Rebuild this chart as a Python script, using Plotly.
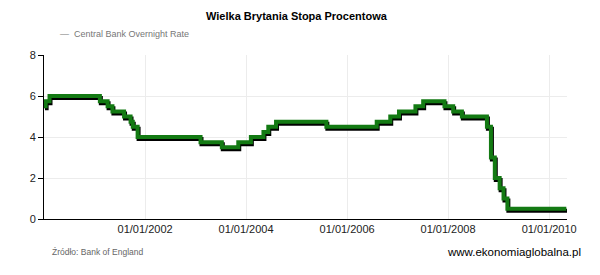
import plotly.graph_objects as go

# Bank of England official rate: change dates and new rate (%)
change_dates = [
    "2000-01-01", "2000-01-13", "2000-02-10", "2001-02-08", "2001-04-05",
    "2001-05-10", "2001-08-02", "2001-09-18", "2001-10-04", "2001-11-08",
    "2003-02-06", "2003-07-10", "2003-11-06", "2004-02-05", "2004-05-06",
    "2004-06-10", "2004-08-05", "2005-08-04", "2006-08-03", "2006-11-09",
    "2007-01-11", "2007-05-10", "2007-07-05", "2007-12-06", "2008-02-07",
    "2008-04-10", "2008-10-08", "2008-11-06", "2008-12-04", "2009-01-08",
    "2009-02-05", "2009-03-05", "2010-05-05",
]
rates = [
    5.5, 5.75, 6.0, 5.75, 5.5,
    5.25, 5.0, 4.75, 4.5, 4.0,
    3.75, 3.5, 3.75, 4.0, 4.25,
    4.5, 4.75, 4.5, 4.75, 5.0,
    5.25, 5.5, 5.75, 5.5, 5.25,
    5.0, 4.5, 3.0, 2.0, 1.5,
    1.0, 0.5, 0.5,
]

x_ticks = ["2002-01-01", "2004-01-01", "2006-01-01", "2008-01-01", "2010-01-01"]
x_tick_labels = ["01/01/2002", "01/01/2004", "01/01/2006", "01/01/2008", "01/01/2010"]
y_ticks = [0, 2, 4, 6, 8]

title = "Wielka Brytania Stopa Procentowa"
series_name = "Central Bank Overnight Rate"
source = "Źródło: Bank of England"
site = "www.ekonomiaglobalna.pl"

FONT = "Liberation Sans, Arial, sans-serif"
GREEN = "#137a13"

# page body has an 8px margin; work in page coordinates and subtract it
OFF = 8
W, H = 600 - OFF, 275 - OFF
PL, PR, PT, PB = 44, 567, 55, 219  # plot area in page pixels
PH = PB - PT

x_range = ["2000-01-01", "2010-05-10"]
y_range = [0, 8]


def py(page_y):
    return (PB - page_y) / PH


def px(page_x):
    return (page_x - PL) / (PR - PL)


fig = go.Figure()

# invisible host trace so the base (tick/grid) axes are drawn
fig.add_trace(go.Scatter(
    x=change_dates, y=rates, mode="lines", line=dict(color="rgba(0,0,0,0)", width=0, shape="hv"),
    hoverinfo="skip", showlegend=False,
))
# shadow: same data on an overlaid axis pair, offset by a couple of pixels
fig.add_trace(go.Scatter(
    x=change_dates, y=rates, mode="lines", line=dict(color="#000000", width=4, shape="hv"),
    xaxis="x2", yaxis="y2", hoverinfo="skip", showlegend=False,
))
fig.add_trace(go.Scatter(
    x=change_dates, y=rates, mode="lines", line=dict(color=GREEN, width=4, shape="hv"),
    xaxis="x3", yaxis="y3", name=series_name, showlegend=False,
))

fig.update_layout(
    width=W, height=H,
    margin=dict(l=PL - OFF, r=W - (PR - OFF), t=PT - OFF, b=H - (PB - OFF)),
    paper_bgcolor="white", plot_bgcolor="white",
    font=dict(family=FONT, size=11, color="#222222"),
    xaxis=dict(
        type="date", range=x_range, tickvals=x_ticks, ticktext=x_tick_labels,
        showgrid=True, gridcolor="#ececec", gridwidth=1,
        showline=True, linecolor="#000000", linewidth=1,
        ticks="", zeroline=False, tickfont=dict(size=11, color="#222222"),
    ),
    yaxis=dict(
        range=y_range, tickvals=y_ticks,
        showgrid=True, gridcolor="#ececec", gridwidth=1,
        showline=True, linecolor="#000000", linewidth=1,
        ticks="outside", ticklen=5, tickcolor="#000000",
        zeroline=False, tickfont=dict(size=11, color="#222222"),
    ),
    xaxis2=dict(type="date", overlaying="x", range=["1999-12-25", "2010-05-03"], visible=False),
    yaxis2=dict(overlaying="y", range=[0.1, 8.1], visible=False),
    xaxis3=dict(type="date", overlaying="x", range=x_range, visible=False),
    yaxis3=dict(overlaying="y", range=y_range, visible=False),
    showlegend=False,
)

fig.add_annotation(text="<b>" + title + "</b>", x=px(297), xref="paper", xanchor="center",
                   y=py(16), yref="paper", yanchor="middle",
                   showarrow=False, font=dict(size=11, color="#000000", family=FONT))

fig.add_annotation(text="—  " + series_name, x=px(58), xref="paper", xanchor="left",
                   y=py(34), yref="paper", yanchor="middle",
                   showarrow=False, font=dict(size=9, color="#777777", family=FONT))

fig.add_annotation(text=source, x=px(50), xref="paper", xanchor="left",
                   y=py(252), yref="paper", yanchor="middle",
                   showarrow=False, font=dict(size=8.5, color="#666666", family=FONT))

fig.add_annotation(text=site, x=px(583), xref="paper", xanchor="right",
                   y=py(252), yref="paper", yanchor="middle",
                   showarrow=False, font=dict(size=11.5, color="#000000", family=FONT))

fig.write_html("out.html")
